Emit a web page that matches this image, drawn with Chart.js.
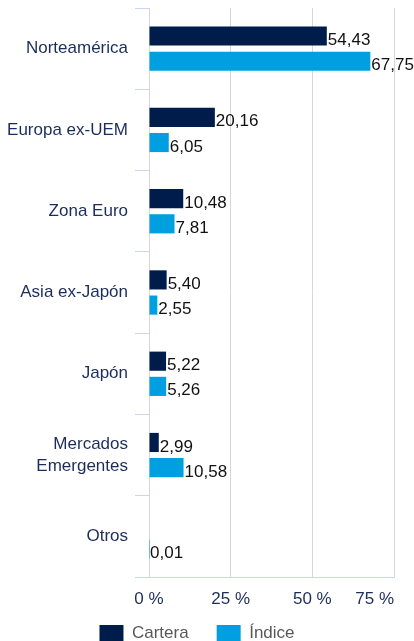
<!DOCTYPE html>
<html>
<head>
<meta charset="utf-8">
<script src="https://cdn.jsdelivr.net/npm/chart.js@4/dist/chart.umd.min.js"></script>
<style>
  html, body { margin: 0; padding: 0; background: #fff; }
  #wrap { width: 414px; height: 641px; position: relative; }
</style>
</head>
<body>
<div id="wrap"><canvas id="regionChart"></canvas></div>
<script>
// Distribución geográfica: cartera vs índice (%)
const regions = ['Norteamérica', 'Europa ex-UEM', 'Zona Euro', 'Asia ex-Japón', 'Japón', ['Mercados', 'Emergentes'], 'Otros'];
const cartera = [54.43, 20.16, 10.48, 5.40, 5.22, 2.99, null];
const indice = [67.75, 6.05, 7.81, 2.55, 5.26, 10.58, 0.01];
const xTicks = [0, 25, 50, 75];

const FONT = '"Liberation Sans", Arial, sans-serif';
const NAVY_TEXT = '#1b2d5c';

// numbers with comma decimals, like the source
function fmt(v) {
    return v.toFixed(2).replace('.', ',');
}

// value labels at the end of each bar
const barLabels = {
    id: 'barLabels',
    afterDatasetsDraw(chart) {
        const ctx = chart.ctx;
        ctx.save();
        ctx.font = '17px ' + FONT;
        ctx.fillStyle = '#111';
        ctx.textAlign = 'left';
        ctx.textBaseline = 'alphabetic';
        chart.data.datasets.forEach((ds, i) => {
            const meta = chart.getDatasetMeta(i);
            meta.data.forEach((bar, j) => {
                const v = ds.data[j];
                if (v === null || v === undefined) return;
                ctx.fillText(fmt(v), bar.x + 1, bar.y + bar.height / 2 - 0.5);
            });
        });
        ctx.restore();
    }
};

// x tick labels, last one kept inside the plot edge
const xLabels = {
    id: 'xLabels',
    afterDraw(chart) {
        const ctx = chart.ctx;
        const x = chart.scales.x;
        ctx.save();
        ctx.font = '17px ' + FONT;
        ctx.fillStyle = NAVY_TEXT;
        ctx.textBaseline = 'middle';
        xTicks.forEach((t, i) => {
            const px = x.getPixelForValue(t);
            ctx.textAlign = i === xTicks.length - 1 ? 'right' : 'center';
            ctx.fillText(t + ' %', px, chart.chartArea.bottom + 22);
        });
        ctx.restore();
    }
};

const ctx = document.getElementById('regionChart').getContext('2d');
const regionChart = new Chart(ctx, {
    type: 'bar',
    data: {
        labels: regions,
        datasets: [
            {
                label: 'Cartera',
                data: cartera,
                backgroundColor: '#001c4b',
                categoryPercentage: 0.62,
                barPercentage: 0.76
            },
            {
                label: 'Índice',
                data: indice,
                backgroundColor: '#009fe0',
                categoryPercentage: 0.62,
                barPercentage: 0.76
            }
        ]
    },
    options: {
        indexAxis: 'y',
        responsive: true,
        maintainAspectRatio: false,
        animation: false,
        layout: {
            padding: { top: 8, right: 20, left: 0, bottom: -11 }
        },
        plugins: {
            legend: {
                position: 'bottom',
                labels: {
                    boxWidth: 24,
                    boxHeight: 17,
                    padding: 28,
                    color: '#595959',
                    font: { family: FONT, size: 17 }
                }
            },
            tooltip: { enabled: false }
        },
        scales: {
            x: {
                min: 0,
                max: 75,
                ticks: { display: false, stepSize: 25 },
                grid: { color: '#d6d6d6', drawTicks: false },
                border: { color: '#c9d5ec' },
                afterFit(scale) {
                    scale.height = 20;
                    scale.paddingLeft = 0;
                    scale.paddingRight = 0;
                }
            },
            y: {
                ticks: {
                    color: NAVY_TEXT,
                    padding: 7,
                    font: { family: FONT, size: 17, lineHeight: 1.3 }
                },
                grid: {
                    offset: true,
                    drawOnChartArea: false,
                    drawTicks: true,
                    tickLength: 14,
                    color: '#c9d5ec'
                },
                border: { display: false },
                afterFit(scale) {
                    scale.width = 149;
                    scale.paddingTop = 0;
                    scale.paddingBottom = 0;
                }
            }
        }
    },
    plugins: [barLabels, xLabels]
});
</script>
</body>
</html>
